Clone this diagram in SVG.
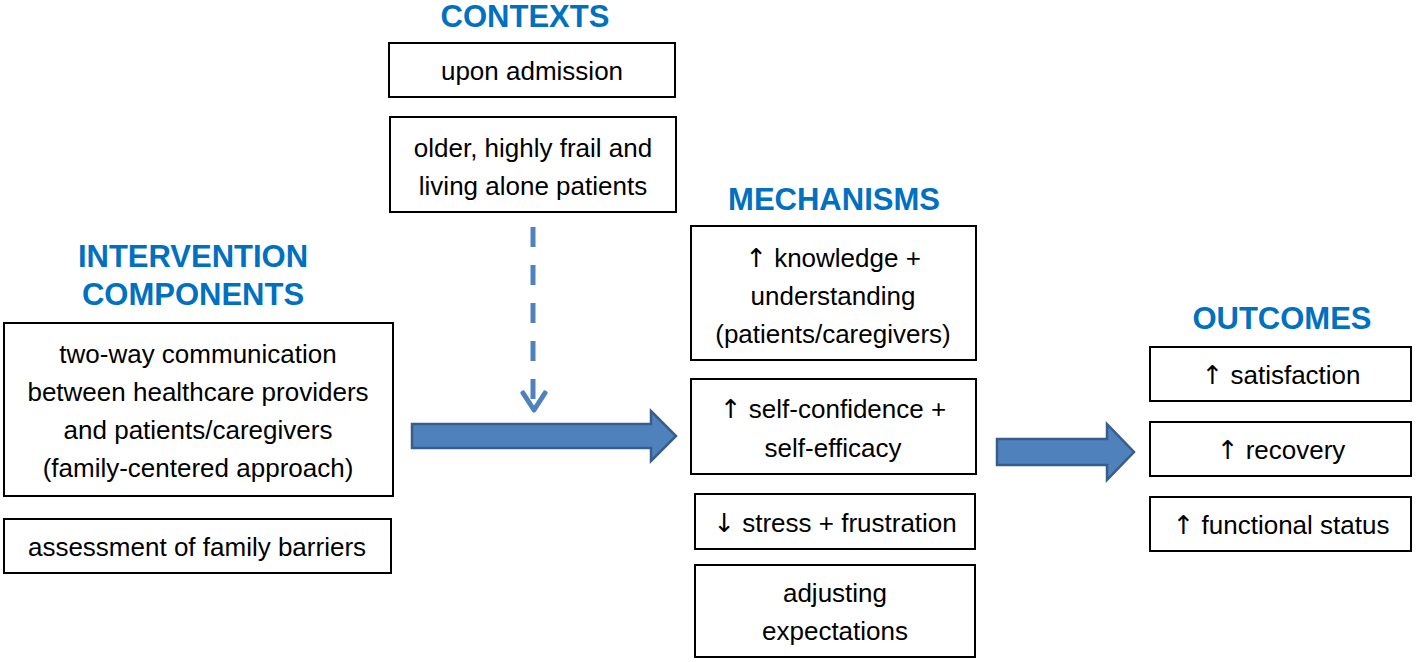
<svg xmlns="http://www.w3.org/2000/svg" width="1418" height="662" viewBox="0 0 1418 662">
<style>
.bx{fill:#fff;stroke:#000;stroke-width:2}
.t{font-family:"Liberation Sans",Arial,sans-serif;font-size:26px;fill:#000;text-anchor:middle}
.a{font-family:"DejaVu Sans",sans-serif;fill:#000}
.h{font-family:"Liberation Sans",Arial,sans-serif;font-size:31px;font-weight:bold;fill:#0070C0;text-anchor:middle}
.ar{fill:#4F81BD;stroke:#385D8A;stroke-width:2.5;stroke-linejoin:miter}
</style>
<rect width="1418" height="662" fill="#fff"/>
<g id="headings">
<text class="h" x="525" y="27">CONTEXTS</text>
<text class="h" x="834" y="210">MECHANISMS</text>
<text class="h" x="193" y="267">INTERVENTION</text>
<text class="h" x="193" y="305">COMPONENTS</text>
<text class="h" x="1282" y="329">OUTCOMES</text>
</g>
<g id="ctx1"><rect class="bx" x="389" y="43" width="286" height="54"/><text class="t" x="532" y="80">upon admission</text></g>
<g id="ctx2"><rect class="bx" x="390" y="117" width="286" height="95"/><text class="t" x="533" y="157">older, highly frail and</text><text class="t" x="533" y="195">living alone patients</text></g>
<g id="int1"><rect class="bx" x="4" y="323" width="389" height="173"/><text class="t" x="198" y="363">two-way communication</text><text class="t" x="198" y="401">between healthcare providers</text><text class="t" x="198" y="439">and patients/caregivers</text><text class="t" x="198" y="477">(family-centered approach)</text></g>
<g id="int2"><rect class="bx" x="4" y="519" width="387" height="54"/><text class="t" x="197" y="556">assessment of family barriers</text></g>
<g id="mech1"><rect class="bx" x="691" y="226" width="285" height="134"/><text class="t" x="833" y="267"><tspan class="a">↑</tspan> knowledge +</text><text class="t" x="833" y="305">understanding</text><text class="t" x="833" y="343">(patients/caregivers)</text></g>
<g id="mech2"><rect class="bx" x="691" y="379" width="285" height="95"/><text class="t" x="833" y="418"><tspan class="a">↑</tspan> self-confidence +</text><text class="t" x="833" y="457">self-efficacy</text></g>
<g id="mech3"><rect class="bx" x="695" y="494" width="280" height="55"/><text class="t" x="835" y="532"><tspan class="a">↓</tspan> stress + frustration</text></g>
<g id="mech4"><rect class="bx" x="695" y="565" width="280" height="92"/><text class="t" x="835" y="602">adjusting</text><text class="t" x="835" y="640">expectations</text></g>
<g id="out1"><rect class="bx" x="1150" y="347" width="261" height="54"/><text class="t" x="1281" y="384"><tspan class="a">↑</tspan> satisfaction</text></g>
<g id="out2"><rect class="bx" x="1150" y="422" width="261" height="54"/><text class="t" x="1281" y="459"><tspan class="a">↑</tspan> recovery</text></g>
<g id="out3"><rect class="bx" x="1150" y="497" width="261" height="54"/><text class="t" x="1281" y="534"><tspan class="a">↑</tspan> functional status</text></g>
<g id="connectors">
<line x1="533" y1="227" x2="533" y2="405" stroke="#4F81BD" stroke-width="5" stroke-dasharray="20,18"/>
<polyline points="523,393 534,410 545,393" fill="none" stroke="#4F81BD" stroke-width="5" stroke-linecap="round" stroke-linejoin="round"/>
<path class="ar" d="M412,424 L651,424 L651,411 L676,436 L651,461 L651,448 L412,448 Z"/>
<path class="ar" d="M997,439 L1107,439 L1107,424 L1134,452 L1107,480 L1107,465 L997,465 Z"/>
</g>
</svg>
